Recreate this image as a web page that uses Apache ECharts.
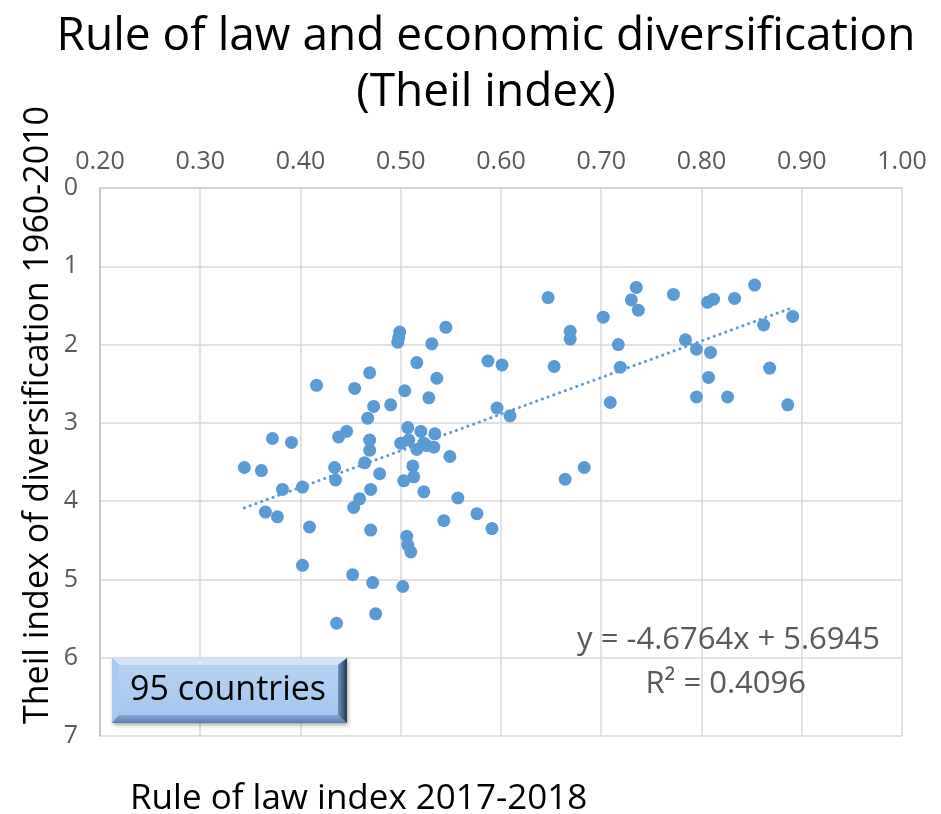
<!DOCTYPE html>
<html>
<head>
<meta charset="utf-8">
<script src="https://cdn.jsdelivr.net/npm/echarts@6/dist/echarts.min.js"></script>
<style>
html,body{margin:0;padding:0;background:#fff;}
#chart{width:941px;height:814px;}
</style>
</head>
<body>
<div id="chart"></div>
<script>
// ---- data ----
const ruleOfLaw = [
  0.344,0.361,0.365,0.372,0.377,0.382,0.391,0.402,0.402,0.409,
  0.416,0.434,0.435,0.436,0.438,0.446,0.452,0.453,0.454,0.459,
  0.464,0.467,0.469,0.469,0.469,0.470,0.470,0.472,0.473,0.475,
  0.479,0.490,0.497,0.498,0.499,0.500,0.502,0.503,0.504,0.506,
  0.507,0.507,0.508,0.510,0.512,0.513,0.516,0.516,0.520,0.523,
  0.523,0.526,0.528,0.531,0.533,0.534,0.536,0.543,0.545,0.549,
  0.557,0.576,0.587,0.591,0.596,0.601,0.609,0.647,0.653,0.664,
  0.669,0.669,0.683,0.702,0.709,0.717,0.719,0.730,0.735,0.737,
  0.772,0.784,0.795,0.795,0.806,0.807,0.809,0.812,0.826,0.833,
  0.853,0.862,0.868,0.886,0.891
];
const theilIndex = [
  3.57,3.61,4.14,3.20,4.20,3.85,3.25,3.82,4.82,4.33,
  2.52,3.57,3.73,5.56,3.18,3.11,4.94,4.08,2.56,3.97,
  3.51,2.94,2.36,3.22,3.35,3.85,4.37,5.04,2.79,5.44,
  3.65,2.77,1.97,1.91,1.84,3.26,5.09,3.74,2.59,4.45,
  3.06,4.56,3.22,4.65,3.55,3.69,2.23,3.34,3.11,3.26,
  3.88,3.29,2.68,1.99,3.31,3.14,2.43,4.25,1.78,3.43,
  3.96,4.16,2.21,4.35,2.81,2.26,2.91,1.40,2.28,3.72,
  1.83,1.93,3.57,1.65,2.74,2.00,2.29,1.43,1.27,1.56,
  1.36,1.94,2.06,2.67,1.46,2.42,2.10,1.42,2.67,1.41,
  1.24,1.75,2.30,2.77,1.64
];
const trendSlope = -4.6764;
const trendIntercept = 5.6945;
const rSquared = 0.4096;
const xTickRange = [0.2, 1.0, 0.1];
const yTickRange = [0, 7, 1];
const titleLines = ['Rule of law and economic diversification', '(Theil index)'];
const xAxisTitle = 'Rule of law index 2017-2018';
const yAxisTitle = 'Theil index of diversification 1960-2010';
const boxLabel = '95 countries';

// ---- build ----
const points = ruleOfLaw.map((x, i) => [x, theilIndex[i]]);
const xMin = Math.min(...ruleOfLaw), xMax = Math.max(...ruleOfLaw);
const trendData = [[xMin, trendSlope * xMin + trendIntercept], [xMax, trendSlope * xMax + trendIntercept]];
const eqText = 'y = ' + trendSlope.toFixed(4) + 'x + ' + trendIntercept.toFixed(4);
const r2Text = 'R² = ' + rSquared.toFixed(4);

const FONT = '"Open Sans", "Noto Sans", sans-serif';

// bevelled box geometry
const bx0 = 112, by0 = 658, bx1 = 347, by1 = 723;
const bl = 7, bt = 7, br = 9, bb = 8;
const ix0 = bx0 + bl, iy0 = by0 + bt, ix1 = bx1 - br, iy1 = by1 - bb;

const chart = echarts.init(document.getElementById('chart'), null, {renderer: 'canvas'});
chart.setOption({
  animation: false,
  backgroundColor: '#ffffff',
  title: {
    text: titleLines.join('\n'),
    left: 481,
    textAlign: 'center',
    top: 4,
    textStyle: {fontFamily: FONT, fontSize: 46, fontWeight: 'normal', color: '#000', lineHeight: 56}
  },
  grid: {left: 100, right: 39, top: 188, bottom: 78, containLabel: false},
  xAxis: {
    type: 'value', position: 'top',
    min: xTickRange[0], max: xTickRange[1], interval: xTickRange[2],
    axisLine: {show: true, lineStyle: {color: '#d0d0d0', width: 1.5}},
    axisTick: {show: false},
    splitLine: {show: true, lineStyle: {color: '#d9d9d9', width: 1.5}},
    axisLabel: {fontFamily: FONT, fontSize: 25, color: '#595959', margin: 14,
      formatter: v => v.toFixed(2)}
  },
  yAxis: {
    type: 'value', inverse: true,
    min: yTickRange[0], max: yTickRange[1], interval: yTickRange[2],
    axisLine: {show: true, lineStyle: {color: '#bfbfbf', width: 1.5}},
    axisTick: {show: false},
    splitLine: {show: true, lineStyle: {color: '#d9d9d9', width: 1.5}},
    axisLabel: {fontFamily: FONT, fontSize: 25, color: '#595959', margin: 22,
      formatter: v => String(v)}
  },
  series: [
    {
      type: 'line', data: trendData, symbol: 'none', silent: true, z: 1,
      lineStyle: {color: '#5b9bd5', width: 3, type: [0.1, 6], cap: 'round'}
    },
    {
      type: 'scatter', data: points, symbol: 'circle', symbolSize: 13, z: 2,
      itemStyle: {color: '#5b9bd5', opacity: 1}
    }
  ],
  graphic: [
    {
      type: 'text', x: 38, y: 415, rotation: Math.PI / 2, z: 100,
      style: {text: yAxisTitle, fontFamily: FONT, fontSize: 34, fill: '#000',
        textAlign: 'center', textVerticalAlign: 'middle'}
    },
    {
      type: 'text', x: 130, y: 799, z: 100,
      style: {text: xAxisTitle, fontFamily: FONT, fontSize: 35, fill: '#000',
        textAlign: 'left', textVerticalAlign: 'middle'}
    },
    {
      type: 'text', x: 880, y: 640, z: 100,
      style: {text: eqText, fontFamily: FONT, fontSize: 31, fill: '#595959',
        textAlign: 'right', textVerticalAlign: 'middle'}
    },
    {
      type: 'text', x: 806, y: 684, z: 100,
      style: {text: r2Text, fontFamily: FONT, fontSize: 31, fill: '#595959',
        textAlign: 'right', textVerticalAlign: 'middle'}
    },
    {
      type: 'group', z: 100,
      children: [
        {
          type: 'rect', z: 100, shape: {x: bx0, y: by0, width: bx1 - bx0, height: by1 - by0},
          style: {fill: '#7fa6d8', shadowBlur: 4, shadowColor: 'rgba(0,0,0,0.35)', shadowOffsetX: 1, shadowOffsetY: 2}
        },
        {type: 'polygon', z: 101, shape: {points: [[bx0, by0], [bx1, by0], [ix1, iy0], [ix0, iy0]]},
          style: {fill: '#d2e4f8'}},
        {type: 'polygon', z: 101, shape: {points: [[bx0, by0], [ix0, iy0], [ix0, iy1], [bx0, by1]]},
          style: {fill: '#a9c9ef'}},
        {type: 'polygon', z: 101, shape: {points: [[bx1, by0], [bx1, by1], [ix1, iy1], [ix1, iy0]]},
          style: {fill: new echarts.graphic.LinearGradient(0, 0, 1, 0, [
            {offset: 0, color: '#6f93c2'}, {offset: 1, color: '#24384f'}])}},
        {type: 'polygon', z: 101, shape: {points: [[bx0, by1], [ix0, iy1], [ix1, iy1], [bx1, by1]]},
          style: {fill: new echarts.graphic.LinearGradient(0, 0, 0, 1, [
            {offset: 0, color: '#86a9d6'}, {offset: 1, color: '#5a7fae'}])}},
        {
          type: 'rect', z: 102, shape: {x: ix0, y: iy0, width: ix1 - ix0, height: iy1 - iy0},
          style: {
            fill: new echarts.graphic.LinearGradient(0, 0, 0, 1, [
              {offset: 0, color: '#b6d2f3'}, {offset: 1, color: '#a5c6ee'}
            ])
          }
        },
        {
          type: 'text', z: 103, x: 228, y: 690,
          style: {text: boxLabel, fontFamily: FONT, fontSize: 34, fill: '#000',
            textAlign: 'center', textVerticalAlign: 'middle'}
        }
      ]
    }
  ]
});
</script>
</body>
</html>
